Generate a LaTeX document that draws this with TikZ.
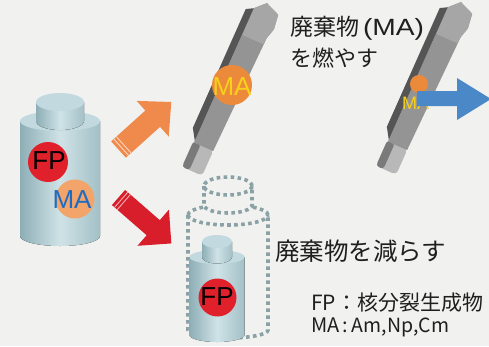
\documentclass[tikz,border=0pt]{standalone}
\usepackage{fontspec}
\newfontfamily\jpfont{Noto Sans CJK JP}
\newfontfamily\latfont{Liberation Sans}
\newfontfamily\latwide{Liberation Sans}[FakeStretch=1.2]
\definecolor{paper}{HTML}{F1F2F0}
\definecolor{cylL}{HTML}{8EAEB6}
\definecolor{cylM}{HTML}{CFE3E7}
\definecolor{cylR}{HTML}{A3C0C6}
\definecolor{cylTop}{HTML}{C2DADF}
\definecolor{fpRed}{HTML}{E0202A}
\definecolor{maPeach}{HTML}{F2A46A}
\definecolor{maOrange}{HTML}{EC8A3C}
\definecolor{maYellow}{HTML}{F6D01A}
\definecolor{maBlue}{HTML}{1A6CC4}
\definecolor{arrOrange}{HTML}{F08A4C}
\definecolor{arrRed}{HTML}{D81E2A}
\definecolor{arrBlue}{HTML}{4A88C8}
\definecolor{dotGrey}{HTML}{8AA2A6}
\definecolor{rodDark}{HTML}{555555}
\definecolor{rodFace}{HTML}{949494}
\definecolor{rodHead}{HTML}{A6A6A6}
\definecolor{pinLight}{HTML}{B8B8B8}
\definecolor{pinDark}{HTML}{7A7A7A}

% cylinder: #1 centre x, #2 neck top centre y, #3 neck rx, #4 neck ry,
% #5 neck height, #6 body rx, #7 body ry, #8 body height
\newcommand\solidcyl[8]{%
  \fill[cylside] ({#1-#6},{#2+#5}) -- ({#1-#6},{#2+#5+#8})
    arc[start angle=180,end angle=360,x radius=#6pt,y radius=#7pt]
    -- ({#1+#6},{#2+#5}) -- cycle;
  \fill[cyltopface] (#1,{#2+#5}) ellipse[x radius=#6pt,y radius=#7pt];
  \fill[cylside] ({#1-#3},#2) -- ({#1-#3},{#2+#5})
    arc[start angle=180,end angle=360,x radius=#3pt,y radius=#4pt]
    -- ({#1+#3},#2) -- cycle;
  \fill[cyltopface] (#1,#2) ellipse[x radius=#3pt,y radius=#4pt];
}

% hexagonal fuel rod, tilted; #1,#2 = lower end of the main body
\newcommand\fuelrod[2]{%
  \begin{scope}[shift={(#1,#2)},rotate=66]
    \fill[pinLight,rounded corners=4pt] (-27,-12) rectangle (1,10);
    \fill[pinDark,rounded corners=3pt] (-27,-12) rectangle (1,-4);
    \fill[rodFace] (0,-11) -- (0,10) -- (125,13) -- (136,16) -- (151,14)
      -- (157,-1) -- (147,-11) -- cycle;
    \fill[rodHead] (118,-11) -- (118,12.5) -- (125,13) -- (136,16) -- (151,14)
      -- (157,-1) -- (147,-11) -- cycle;
    \fill[rodDark] (2,-11) -- (13,-18) -- (143,-18) -- (147,-11) -- cycle;
  \end{scope}}

\begin{document}
\begin{tikzpicture}[x=1pt,y=-1pt,
  cylside/.style={left color=cylL,right color=cylR,middle color=cylM},
  cyltopface/.style={fill=cylTop},
  dotline/.style={draw=dotGrey,line width=3.6pt,dash pattern=on 3.6pt off 3.4pt},
  disc/.style={circle,inner sep=0pt,minimum size=#1},
  caplabel/.style={inner sep=0pt,font=\latfont\fontsize{26}{26}\selectfont},
  jptext/.style={anchor=base west,inner sep=0pt,text=black!88},
  stripe/.style={line width=0.9pt},
]
\path[use as bounding box] (0,0) rectangle (489,346);
\clip (0,0) rectangle (489,346);
\fill[paper] (0,0) rectangle (489,346);

% ---- spent fuel cylinder (left)
\solidcyl{60}{102}{24}{9}{19}{40}{10}{115}
\node[disc=40pt,fill=fpRed] (fpBig) at (48,162) {};
\node[caplabel,text=black] (fpBigTxt) at (49,161) {FP};
\node[disc=39pt,fill=maPeach] (maBig) at (75,199) {};
\node[caplabel,text=maBlue] (maBigTxt) at (72,200) {MA};

% ---- block arrows
\begin{scope}[shift={(118.5,149.5)},rotate=42]
  \fill[arrOrange] (0,-11) -- (46,-11) -- (46,-24) -- (71,0) -- (46,24)
    -- (46,11) -- (0,11) -- cycle;
  \draw[stripe,draw=arrOrange!35!white] (3.5,-11) -- (3.5,11);
  \draw[stripe,draw=arrOrange!35!white] (7,-11) -- (7,11);
\end{scope}
\begin{scope}[shift={(118.5,197.5)},rotate=-41]
  \fill[arrRed] (0,-10) -- (46,-10) -- (46,-24) -- (70,0) -- (46,24)
    -- (46,10) -- (0,10) -- cycle;
  \draw[stripe,draw=arrRed!35!white] (3.5,-10) -- (3.5,10);
  \draw[stripe,draw=arrRed!35!white] (7,-10) -- (7,10);
\end{scope}

% ---- fuel rods
\fuelrod{204}{147}
\node[disc=40pt,fill=maOrange] (maRod) at (232,85) {};
\node[caplabel,text=maYellow] (maRodTxt) at (232,87) {MA};

\fuelrod{398}{146}
\node[disc=18pt,fill=maOrange] (maRod2) at (419,84) {};
\node[caplabel,text=maYellow,font=\latfont\fontsize{18}{18}\selectfont] (maRod2Txt) at (415.5,103.5) {MA};
\fill[arrBlue] (417,91) -- (457,91) -- (457,78) -- (491,99) -- (457,120)
  -- (457,106) -- (417,106) -- cycle;

% ---- reduced waste: dotted outline of the original cylinder
\draw[dotline] (228,186) ellipse[x radius=24pt,y radius=9pt];
\draw[dotline] (204,186) -- (204,205)
  arc[start angle=180,end angle=360,x radius=24pt,y radius=8pt] -- (252,186);
\draw[dotline] (188,215) arc[start angle=180,end angle=127,x radius=40pt,y radius=10pt];
\draw[dotline] (268,215) arc[start angle=0,end angle=53,x radius=40pt,y radius=10pt];
\draw[dotline] (188,215) arc[start angle=180,end angle=360,x radius=40pt,y radius=10pt];
\draw[dotline] (188,215) -- (188,330)
  arc[start angle=180,end angle=360,x radius=40pt,y radius=8pt] -- (268,215);

\solidcyl{217}{241.5}{15}{6.5}{15.5}{27.5}{7}{78}
\node[disc=38pt,fill=fpRed] (fpSmall) at (217.5,297.5) {};
\node[caplabel,text=black] (fpSmallTxt) at (217,297) {FP};

% ---- captions
\node[jptext,font=\jpfont\fontsize{23}{23}\selectfont] (burn1) at (290,35.5)
  {廃棄物\,{\latwide\fontsize{23.5}{23.5}\selectfont(MA)}};
\node[jptext,font=\jpfont\fontsize{22}{22}\selectfont] (burn2) at (290,66.5) {を燃やす};
\node[jptext,font=\jpfont\fontsize{24.5}{24.5}\selectfont] (reduce) at (275,260.5) {廃棄物を減らす};
\node[jptext,font=\jpfont\fontsize{21}{21}\selectfont] (keyFP) at (311,310.5) {FP：核分裂生成物};
\node[jptext,font=\jpfont\fontsize{20}{20}\selectfont] (keyMA) at (311,332)
  {MA\,:\,{\fontsize{19.5}{19.5}\selectfont Am,Np,Cm}};
\end{tikzpicture}
\end{document}
